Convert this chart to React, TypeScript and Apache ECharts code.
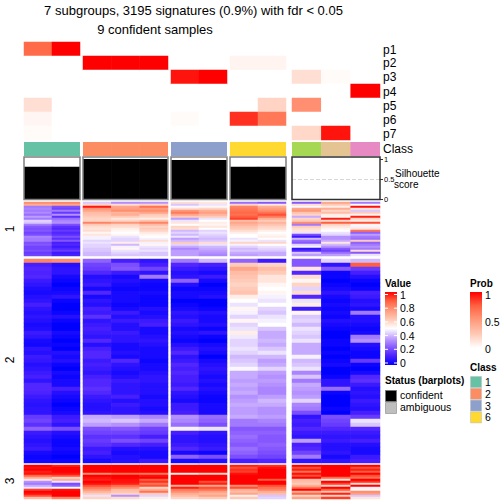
import React, { useEffect, useRef } from "react";
import * as echarts from "echarts";

const TITLE_1 = "7 subgroups, 3195 signatures (0.9%) with fdr < 0.05";
const TITLE_2 = "9 confident samples";
const probRowNames = ["p1", "p2", "p3", "p4", "p5", "p6", "p7"];
const classOfColumn = ["1", "1", "2", "2", "2", "3", "3", "6", "6", "4", "5", "7"];
const classColors: Record<string, string> = {
  "1": "#66C2A5", "2": "#FC8D62", "3": "#8DA0CB", "4": "#A6D854", "5": "#E5C494", "6": "#FFD92F", "7": "#E78AC3",
};
const silhouette = [0.81, 0.81, 1, 1, 1, 0.975, 0.975, 0.81, 0.81, 0, 0, 0];
const silhouetteTicks = [0, 0.5, 1];
const valueTicks = ["1", "0.8", "0.6", "0.4", "0.2", "0"];
const probTicks = ["1", "0.5", "0"];
const legendClasses = ["1", "2", "3", "6"];

// probability per row, per sample
const p1 = [0.72, 1, 0, 0, 0, 0, 0, 0, 0, 0, 0, 0];
const p2 = [0, 0, 1, 1, 1, 0, 0, 0.05, 0.05, 0, 0, 0];
const p3 = [0, 0, 0, 0, 0, 0.95, 1, 0, 0, 0.15, 0.02, 0];
const p4 = [0, 0, 0, 0, 0, 0, 0, 0, 0, 0, 0, 1];
const p5 = [0.15, 0, 0, 0, 0, 0, 0, 0, 0.2, 0.55, 0, 0];
const p6 = [0.04, 0, 0, 0, 0, 0.02, 0, 0.88, 0.65, 0, 0, 0];
const p7 = [0.02, 0, 0, 0, 0, 0, 0, 0, 0, 0.18, 0.95, 0];
const probRows = [p1, p2, p3, p4, p5, p6, p7];

// heat values (percent of scale), one list per sample, slice 1
const s1 = [
  [78,70,30,32,30,33,28,36,30,44,42,30,24,22,24,20,22,32,30,30,22,24,20,20,22,18,20],
  [80,72,22,20,30,18,34,16,28,32,34,22,16,14,18,14,16,22,16,24,12,14,10,14,18,10,12],
  [42,60,97,76,72,66,64,62,60,60,80,62,58,56,58,52,56,48,48,44,46,44,44,42,42,40,40],
  [33,58,72,74,78,68,70,62,56,60,76,60,58,54,52,50,52,46,44,44,54,40,48,52,46,44,42],
  [34,60,84,74,78,72,62,60,54,64,80,66,60,62,60,55,52,50,48,58,48,52,46,44,46,42,42],
  [58,42,49,58,76,82,72,62,36,46,56,50,60,58,40,44,40,46,36,40,62,44,38,32,36,36,36],
  [56,46,52,60,70,74,68,62,46,50,54,52,56,50,44,46,44,42,40,42,58,46,40,38,36,34,32],
  [28,60,80,82,84,86,84,88,92,66,72,68,64,62,58,54,50,50,46,48,60,48,44,40,42,38,36],
  [24,56,70,74,78,84,90,82,70,62,68,64,60,58,54,50,52,54,50,46,60,50,46,44,42,38,38],
  [24,58,49,72,76,64,60,38,60,62,78,30,62,58,56,46,22,10,40,28,24,44,48,8,14,42,36],
  [72,62,54,70,60,66,54,52,96,58,88,60,56,52,50,46,44,34,34,38,56,40,34,24,20,28,36],
  [30,50,98,56,42,62,52,96,60,54,90,52,48,56,84,26,36,30,28,62,26,30,34,30,58,24,46],
];
// slice 2
const s2 = [
  [80,12,14,13,14,10,8,5,4,6,8,12,8,6,8,6,4,5,10,8,4,3,8,6,10,9,6,8,10,12,8,14,14,13,10,8,7,8,8,18,20,16,26,10,8,6,8,10,4,2,3],
  [78,6,8,8,4,2,0,2,4,8,2,0,0,2,6,2,0,0,4,2,0,2,0,6,4,6,2,0,4,2,4,4,12,6,4,2,0,2,4,10,12,8,22,6,4,2,2,4,2,0,2],
  [26,20,18,14,6,8,10,4,14,4,8,6,12,10,16,8,10,12,10,8,14,6,12,14,14,10,12,10,8,12,14,14,16,14,10,8,6,6,8,38,40,36,22,20,16,18,16,10,12,8,4],
  [12,22,24,10,4,6,4,2,4,4,4,2,4,10,6,10,6,6,10,8,8,4,4,6,4,14,8,6,4,6,10,8,8,8,12,6,10,8,8,36,42,34,24,20,16,22,14,6,4,6,6],
  [8,12,20,8,30,4,2,2,4,2,2,2,6,4,6,10,12,4,4,6,8,6,4,4,4,2,4,4,6,8,8,6,6,6,4,6,6,4,6,32,38,30,20,18,12,20,12,6,4,4,10],
  [30,14,10,6,8,26,6,2,4,4,0,2,4,8,6,10,8,4,6,4,2,6,10,14,8,10,14,12,14,12,12,10,14,8,6,4,10,10,12,34,32,28,48,12,8,8,10,14,4,26,4],
  [40,12,8,4,10,4,0,2,4,6,0,0,2,6,4,4,6,2,8,2,0,4,6,4,0,4,6,8,6,4,6,4,6,4,2,2,4,4,4,28,26,22,46,8,6,6,8,10,2,22,6],
  [26,62,72,66,64,62,60,62,64,54,50,46,52,48,44,52,44,46,54,47,44,44,46,44,40,42,44,49,38,38,36,38,36,38,34,36,38,36,36,38,30,30,24,26,28,26,24,28,26,22,12],
  [10,60,66,62,56,56,52,50,52,48,46,50,44,42,46,48,50,42,38,38,40,38,42,46,40,36,38,44,36,34,36,34,32,32,36,40,38,34,34,36,32,30,24,26,24,24,26,24,22,20,14],
  [24,24,56,14,58,52,60,44,58,14,46,54,10,52,42,44,40,46,44,42,46,38,38,38,48,40,42,46,32,42,30,38,36,34,36,44,32,30,22,8,12,10,14,10,8,36,12,14,20,30,8],
  [44,8,24,2,2,0,2,4,8,4,2,4,2,4,2,6,4,2,0,0,2,2,0,2,0,2,4,0,0,2,8,8,28,2,0,0,0,2,0,22,20,18,14,10,8,10,6,6,8,4,8],
  [40,88,18,12,6,2,0,2,12,10,6,8,4,30,6,6,4,2,4,30,34,6,4,2,2,18,2,0,4,14,16,10,6,8,6,10,8,6,12,18,46,42,14,10,8,12,6,4,4,10,12],
];
// slice 3
const s3 = [
  [100,98,100,96,98,86,70,56,34,30,38,46,92,100,98,90,66],
  [96,100,100,100,98,90,60,70,46,22,26,50,98,100,100,100,80],
  [100,100,100,100,78,100,98,96,100,98,90,82,76,68,62,46,60],
  [100,100,100,100,84,100,100,98,98,96,86,78,66,64,60,34,58],
  [100,100,100,100,82,98,100,88,94,84,90,60,70,84,62,44,54],
  [100,100,100,100,54,100,100,100,100,100,70,96,82,78,70,66,60],
  [100,100,100,100,60,100,100,100,90,96,72,90,84,74,68,72,62],
  [96,90,94,92,98,100,100,100,100,100,78,90,70,66,72,54,62],
  [94,98,100,100,100,100,100,88,100,100,90,84,80,70,66,42,44],
  [100,90,96,84,98,90,100,66,66,62,70,84,100,70,86,60,72],
  [100,100,100,100,100,100,86,56,100,92,60,100,88,64,96,60,92],
  [100,90,96,88,100,90,84,100,94,58,100,48,52,78,74,42,56],
];
const slices = [s1, s2, s3];

const groupColumns = [[0, 1], [2, 3, 4], [5, 6], [7, 8], [9, 10, 11]];
const groupBox = [[24, 56], [83, 85], [171, 56], [230, 56], [292, 88]];
const sliceBox = [[202, 54], [259, 204], [465, 34]];

const FONT = "'Liberation Sans', Arial, sans-serif";
const heatStops = ["#0000ff", "#4a20ff", "#8a5cff", "#c4a6ff", "#ffffff", "#ffc9b6", "#ff9a7c", "#ff6342", "#ff0000"];
const probStops = ["#ffffff", "#ffc9b6", "#ff9a7c", "#ff6342", "#ff0000"];

function buildOption() {
  const grid: any[] = [], xAxis: any[] = [], yAxis: any[] = [], series: any[] = [];
  const heatIdx: number[] = [], probIdx: number[] = [];
  const graphic: any[] = [];
  const addGrid = (left: number, top: number, width: number, height: number, x: any, y: any) => {
    const i = grid.length;
    grid.push({ left, top, width, height, show: false, containLabel: false });
    xAxis.push({ gridIndex: i, ...x });
    yAxis.push({ gridIndex: i, ...y });
    return i;
  };
  const hiddenCat = (n: number, inverse = false) => ({
    type: "category", show: false, inverse, data: Array.from({ length: n }, (_, k) => String(k)),
  });
  groupColumns.forEach((cols, g) => {
    const [left, width] = groupBox[g];
    // probability annotation
    let gi = addGrid(left, 42, width, 98, hiddenCat(cols.length), hiddenCat(7, true));
    const probData: number[][] = [];
    cols.forEach((c, xi) => probRows.forEach((row, yi) => probData.push([xi, yi, row[c]])));
    probIdx.push(series.length);
    series.push({ type: "heatmap", xAxisIndex: gi, yAxisIndex: gi, data: probData, progressive: 0, silent: true, itemStyle: { borderWidth: 0 } });
    // class bar
    gi = addGrid(left, 142, width, 14, hiddenCat(cols.length), { type: "value", show: false, min: 0, max: 1 });
    series.push({
      type: "bar", xAxisIndex: gi, yAxisIndex: gi, barWidth: "102%", silent: true,
      data: cols.map((c) => ({ value: 1, itemStyle: { color: classColors[classOfColumn[c]] } })),
    });
    // silhouette
    const last = g === groupColumns.length - 1;
    gi = addGrid(left, 157, width, 42.5, hiddenCat(cols.length), {
      type: "value", min: 0, max: 1.05, position: "right", show: last,
      axisLine: { show: false }, splitLine: { show: false },
      axisTick: { show: last, length: 3, customValues: silhouetteTicks, lineStyle: { color: "#333", width: 1 } },
      axisLabel: { show: last, fontFamily: FONT, fontSize: 7.5, color: "#000", margin: 4, customValues: silhouetteTicks },
    });
    series.push({
      type: "bar", xAxisIndex: gi, yAxisIndex: gi, barWidth: "102%", silent: true,
      data: cols.map((c) => silhouette[c]), itemStyle: { color: "#000" },
      markLine: last ? { silent: true, symbol: "none", label: { show: false },
        lineStyle: { color: "#d8d8d8", type: "dashed", width: 1 }, data: [{ yAxis: 0.5 }] } : undefined,
    });
    graphic.push({ type: "rect", shape: { x: left, y: 157, width, height: 42.5 }, z: 50,
      style: { fill: "none", stroke: last ? "#303030" : "#7f7f7f", lineWidth: 1.5 } });
    // heat slices
    slices.forEach((s, k) => {
      const [top, height] = sliceBox[k];
      const rows = s[0].length;
      const gh = addGrid(left, top, width, height, hiddenCat(cols.length), hiddenCat(rows, true));
      const d: number[][] = [];
      cols.forEach((c, xi) => s[c].forEach((v, yi) => d.push([xi, yi, v / 100])));
      heatIdx.push(series.length);
      series.push({ type: "heatmap", xAxisIndex: gh, yAxisIndex: gh, data: d, progressive: 0, silent: true });
    });
  });

  const txt = (text: string, x: number, y: number, o: any = {}) =>
    graphic.push({ type: "text", x, y, rotation: o.rotation ?? 0, z: 60, style: {
      text, fontFamily: FONT, fontSize: o.size ?? 11, fontWeight: o.weight ?? "normal", fill: "#000",
      textAlign: o.align ?? "left", textVerticalAlign: "middle", align: o.align ?? "left", verticalAlign: "middle",
    } });
  txt(TITLE_1, 193.5, 10, { size: 13, align: "center" });
  txt(TITLE_2, 155, 29, { size: 13, align: "center" });
  probRowNames.forEach((n, i) => txt(n, 383, [49.5, 63, 77, 92, 106, 120, 134][i], { size: 12 }));
  txt("Class", 383, 148.5, { size: 12 });
  txt("Silhouette", 395, 173, { size: 10 });
  txt("score", 394, 184, { size: 10 });
  ["1", "2", "3"].forEach((n, i) => txt(n, 10, [229, 360, 481][i], { size: 12, rotation: Math.PI / 2, align: "center" }));

  // Value legend
  txt("Value", 385, 283, { size: 10, weight: "bold" });
  graphic.push({ type: "rect", shape: { x: 385, y: 292, width: 12, height: 73 }, z: 50, style: {
    fill: new echarts.graphic.LinearGradient(0, 0, 0, 1, heatStops.map((c, i) => ({ offset: 1 - i / (heatStops.length - 1), color: c })).reverse()),
  } });
  valueTicks.forEach((t, i) => {
    const y = 294.5 + i * 13.7;
    txt(t, 400, y, { size: 10.5 });
    graphic.push({ type: "line", z: 51, shape: { x1: 385, y1: y, x2: 388, y2: y }, style: { stroke: "#fff", lineWidth: 1 } });
    graphic.push({ type: "line", z: 51, shape: { x1: 394, y1: y, x2: 397, y2: y }, style: { stroke: "#fff", lineWidth: 1 } });
  });
  // Status legend
  txt("Status (barplots)", 385, 380, { size: 10, weight: "bold" });
  graphic.push({ type: "rect", z: 50, shape: { x: 385.5, y: 390.5, width: 11, height: 11 }, style: { fill: "#000", stroke: "#777" } });
  graphic.push({ type: "rect", z: 50, shape: { x: 385.5, y: 402.5, width: 11, height: 11 }, style: { fill: "#bebebe", stroke: "#aaa" } });
  txt("confident", 400, 395, { size: 10.5 });
  txt("ambiguous", 400, 407, { size: 10.5 });
  // Prob legend
  txt("Prob", 470, 283, { size: 10, weight: "bold" });
  graphic.push({ type: "rect", shape: { x: 470, y: 292, width: 12, height: 56 }, z: 50, style: {
    fill: new echarts.graphic.LinearGradient(0, 0, 0, 1, probStops.map((c, i) => ({ offset: 1 - i / (probStops.length - 1), color: c })).reverse()),
  } });
  probTicks.forEach((t, i) => {
    const y = 294.5 + i * 27.2;
    txt(t, 485, y, { size: 10.5 });
  });
  // Class legend
  txt("Class", 470, 367, { size: 10, weight: "bold" });
  legendClasses.forEach((c, i) => {
    const y = 376 + i * 11.8;
    graphic.push({ type: "rect", z: 50, shape: { x: 470.5, y: y + 0.5, width: 11, height: 11 }, style: { fill: classColors[c], stroke: "#bbb", lineWidth: 0.5 } });
    txt(c, 485, y + 6, { size: 10.5 });
  });

  return {
    animation: false,
    backgroundColor: "#fff",
    grid, xAxis, yAxis, series, graphic,
    tooltip: { show: false },
    visualMap: [
      { type: "continuous", show: false, min: 0, max: 1, seriesIndex: heatIdx, inRange: { color: heatStops } },
      { type: "continuous", show: false, min: 0, max: 1, seriesIndex: probIdx, inRange: { color: probStops } },
    ],
  };
}

export default function App() {
  const ref = useRef<HTMLDivElement>(null);
  useEffect(() => {
    document.body.style.margin = "0";
    const chart = echarts.init(ref.current!, undefined, { renderer: "svg" });
    chart.setOption(buildOption() as any);
    return () => chart.dispose();
  }, []);
  return <div ref={ref} style={{ width: 504, height: 504 }} />;
}
